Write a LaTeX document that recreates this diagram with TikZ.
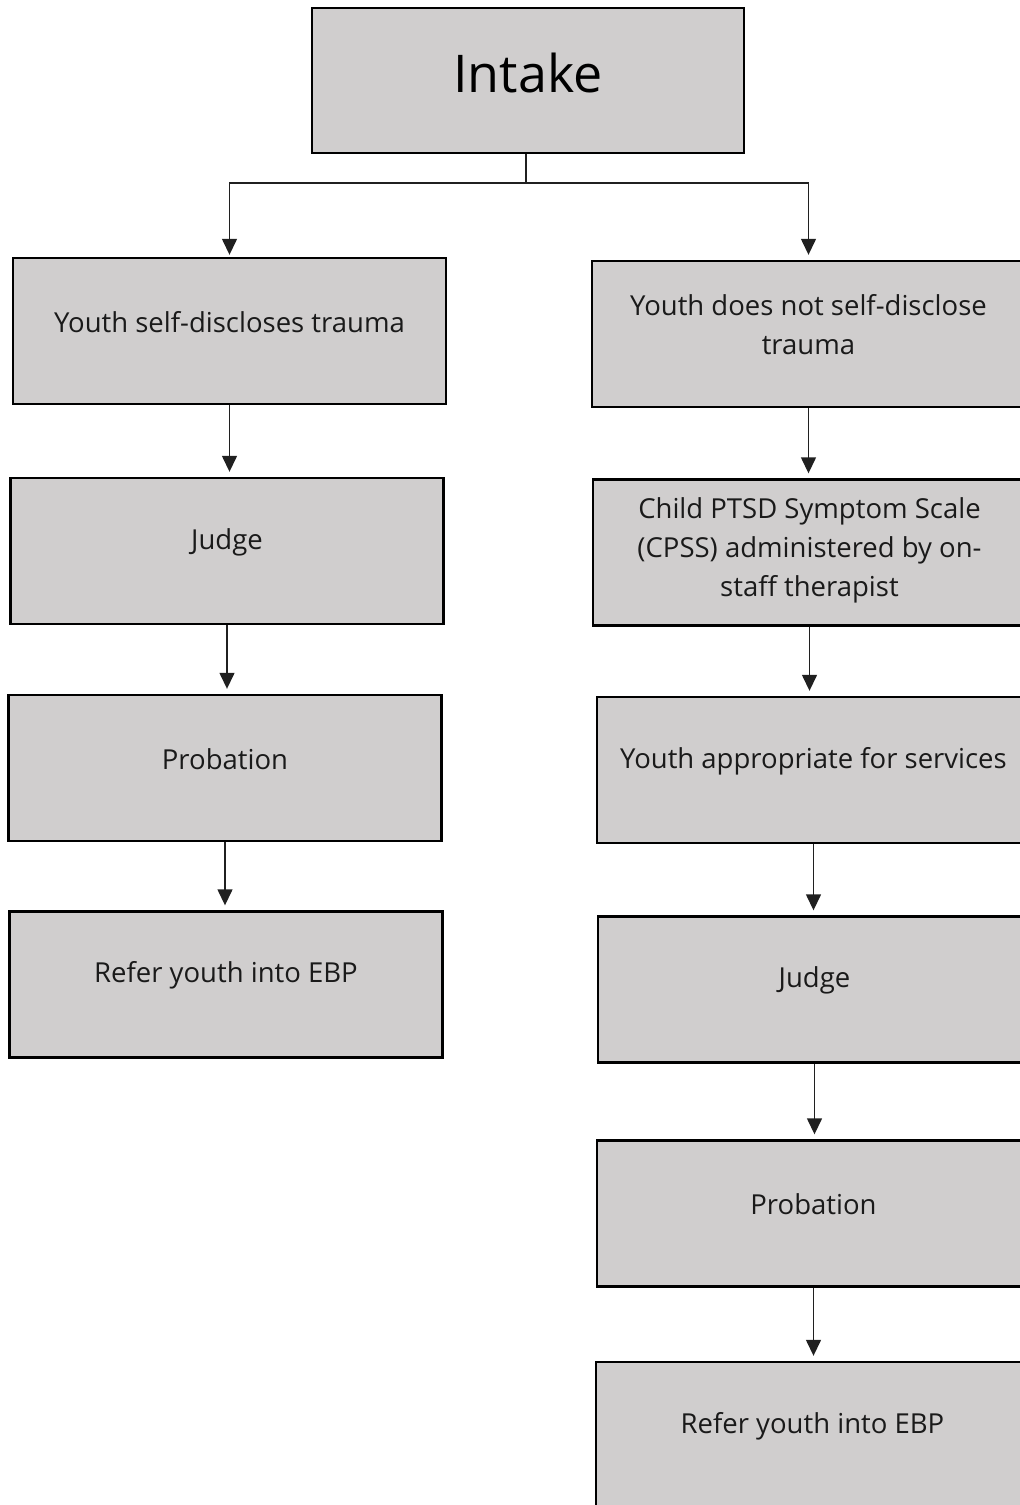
\documentclass[tikz,border=0pt]{standalone}
\usepackage{fontspec}
\setmainfont{Open Sans}
\usetikzlibrary{arrows.meta}
\definecolor{boxfill}{HTML}{D0CECE}
\definecolor{txtcol}{HTML}{1A1A1A}
\definecolor{linecol}{HTML}{202020}
\tikzset{
  box/.style={draw=black, fill=boxfill, line width=2.4pt, minimum width=433pt, minimum height=146pt, inner sep=0pt},
  txt/.style={text=txtcol, font=\fontsize{27.5}{39}\selectfont, align=center},
  conn/.style={draw=linecol, line width=1.4pt},
  arr/.style={conn, -{Triangle[width=15pt,length=16pt]}, shorten >=5pt},
}
\begin{document}
\begin{tikzpicture}[x=1pt,y=-1pt]
\useasboundingbox (0,0) rectangle (1020,1505);
\clip (0,0) rectangle (1020,1505);
% top
\node[box, minimum width=432pt, minimum height=145pt,
  label={[text=black, font=\fontsize{52}{60}\selectfont, yshift=7.5pt]center:Intake}] (intake) at (528,80.5) {};
% left column
\node[box, label={[txt,yshift=9pt]center:Youth self-discloses trauma}] (L1) at (229.5,331) {};
\node[box, label={[txt,yshift=9pt]center:Judge}] (L2) at (227,551) {};
\node[box, label={[txt,yshift=9pt]center:Probation}] (L3) at (225,768) {};
\node[box, label={[txt,yshift=9pt]center:Refer youth into EBP}] (L4) at (226,984.5) {};
% right column
\node[box, label={[txt,yshift=9.5pt]center:Youth does not self-disclose\\trauma}] (R1) at (808.5,334) {};
\node[box, label={[txt,yshift=2.5pt]center:Child PTSD Symptom Scale\\(CPSS) administered by on-\\staff therapist}] (R2) at (809.5,552.5) {};
\node[box, label={[txt,yshift=9pt]center:Youth appropriate for services}] (R3) at (813.5,770) {};
\node[box, label={[txt,yshift=9pt]center:Judge}] (R4) at (814.5,989.5) {};
\node[box, label={[txt,yshift=9pt]center:Probation}] (R5) at (813.5,1213.5) {};
\node[box, minimum height=148pt, label={[txt,yshift=10pt]center:Refer youth into EBP}] (R6) at (812.5,1436) {};
% connectors
\coordinate (split) at (526,183);
\draw[conn] (intake.south -| split) -- (split);
\draw[arr, shorten >=2pt] (split) -| (L1.north);
\draw[arr, shorten >=5pt] (split) -| (R1.north);
\draw[arr] (L1.south) -- (L1.south |- L2.north);
\draw[arr] (L2.south) -- (L2.south |- L3.north);
\draw[arr] (L3.south) -- (L3.south |- L4.north);
\draw[arr] (R1.south) -- (R1.south |- R2.north);
\draw[arr] (R2.south) -- (R2.south |- R3.north);
\draw[arr] (R3.south) -- (R3.south |- R4.north);
\draw[arr] (R4.south) -- (R4.south |- R5.north);
\draw[arr] (R5.south) -- (R5.south |- R6.north);
\end{tikzpicture}
\end{document}
